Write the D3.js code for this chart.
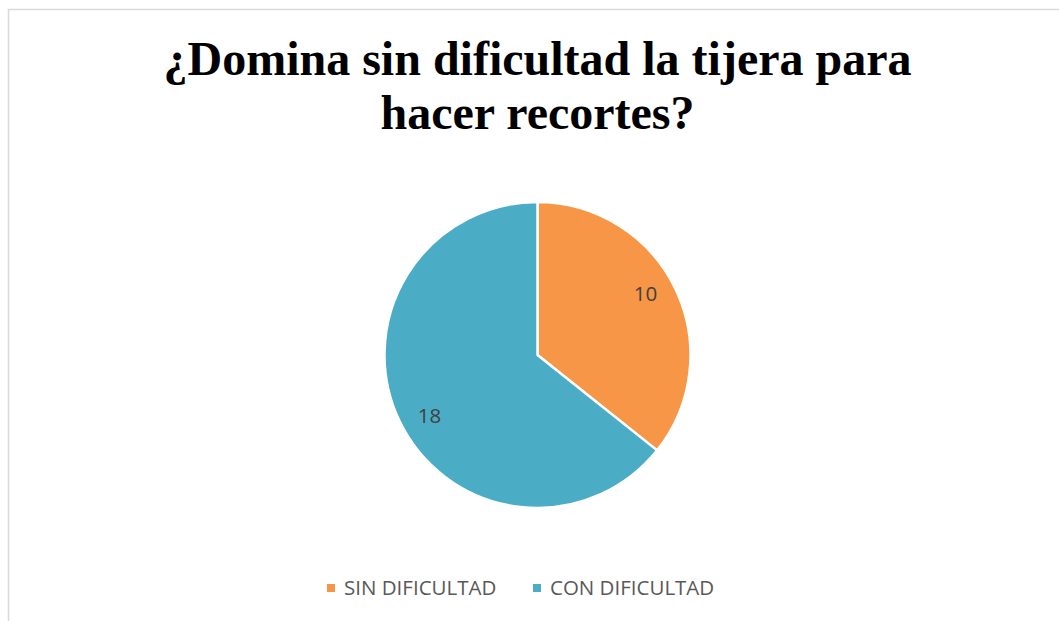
<!DOCTYPE html>
<html>
<head>
<meta charset="utf-8">
<script src="https://cdn.jsdelivr.net/npm/d3@7"></script>
<style>
  html, body { margin: 0; padding: 0; background: #fff; }
  svg { display: block; }
</style>
</head>
<body>
<div id="chart"></div>
<script>
// Data
const categories = ['SIN DIFICULTAD', 'CON DIFICULTAD']
const values = [10, 18]
const colors = ['#F79646', '#4BACC6']
const titleLines = ['¿Domina sin dificultad la tijera para', 'hacer recortes?']

// SVG Node
const width = 1059
const height = 621
const svg = d3.select('#chart').append('svg')
    .attr('width', width)
    .attr('height', height)

// chart area border
svg.append('rect')
    .attr('x', 8.5)
    .attr('y', 9.5)
    .attr('width', 1060)
    .attr('height', 620)
    .attr('fill', '#fff')
    .attr('stroke', '#d9d9d9')
    .attr('stroke-width', 1.5)

// Title
svg.append('g')
    .selectAll('text')
    .data(titleLines)
    .join('text')
    .attr('x', 537.5)
    .attr('y', (_, i) => 75 + i * 54)
    .attr('text-anchor', 'middle')
    .style('font-family', '"Liberation Serif", "Times New Roman", serif')
    .style('font-weight', 'bold')
    .style('font-size', '48px')
    .attr('fill', '#000')
    .text(d => d)

// Pie
const cx = 537.5
const cy = 355
const radius = 153

const pie = d3.pie().sort(null).value(d => d)
const arc = d3.arc().innerRadius(0).outerRadius(radius)
const labelArc = d3.arc().innerRadius(radius * 0.81).outerRadius(radius * 0.81)
const color = d3.scaleOrdinal().domain(categories).range(colors)
const labelShift = -0.065 // labels sit slightly counter-clockwise of the slice middle

const arcs = pie(values)
const pieG = svg.append('g').attr('transform', `translate(${cx}, ${cy})`)

pieG.selectAll('path')
    .data(arcs)
    .join('path')
    .attr('d', arc)
    .attr('fill', (_, i) => color(categories[i]))
    .attr('stroke', '#fff')
    .attr('stroke-width', 2.5)
    .attr('stroke-linejoin', 'round')

pieG.selectAll('text')
    .data(arcs)
    .join('text')
    .attr('transform', d => `translate(${labelArc.centroid({
        startAngle: d.startAngle + labelShift,
        endAngle: d.endAngle + labelShift
    })})`)
    .attr('text-anchor', 'middle')
    .attr('dy', '0.36em')
    .style('font-family', '"Open Sans", sans-serif')
    .style('font-size', '20.5px')
    .attr('fill', '#404040')
    .text(d => d.data)

// Legend
const legendX = d3.scalePoint()
    .domain(categories)
    .range([327, 533])

const legend = svg.append('g')
    .selectAll('g')
    .data(categories)
    .join('g')
    .attr('transform', d => `translate(${legendX(d)}, 588)`)

legend.append('rect')
    .attr('x', 0)
    .attr('y', -4)
    .attr('width', 8)
    .attr('height', 8)
    .attr('fill', d => color(d))

legend.append('text')
    .attr('x', 17)
    .attr('dy', '0.36em')
    .style('font-family', '"Open Sans", sans-serif')
    .style('font-size', '20.5px')
    .attr('fill', '#595959')
    .text(d => d)
</script>
</body>
</html>
